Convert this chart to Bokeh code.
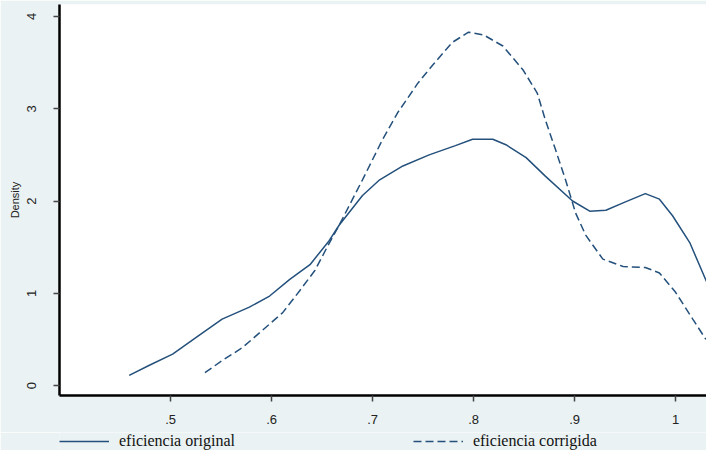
from bokeh.plotting import figure
from bokeh.models import Legend, LegendItem, FixedTicker, Range1d
from bokeh.layouts import column
from bokeh.embed import file_html
from bokeh.resources import INLINE

# Kernel density: eficiencia original (solid)
orig_x = [0.459, 0.479, 0.502, 0.525, 0.551, 0.578, 0.598, 0.618, 0.638, 0.657, 0.667,
          0.690, 0.707, 0.730, 0.756, 0.782, 0.799, 0.819, 0.832, 0.852, 0.871, 0.898,
          0.915, 0.931, 0.948, 0.970, 0.984, 0.997, 1.014, 1.034]
orig_y = [0.11, 0.22, 0.34, 0.52, 0.72, 0.85, 0.97, 1.15, 1.31, 1.57, 1.74,
          2.06, 2.23, 2.38, 2.50, 2.60, 2.67, 2.67, 2.61, 2.47, 2.27, 2.00,
          1.89, 1.90, 1.98, 2.08, 2.02, 1.84, 1.55, 1.04]

# Kernel density: eficiencia corrigida (dashed)
corr_x = [0.534, 0.551, 0.571, 0.591, 0.611, 0.628, 0.643, 0.655, 0.667, 0.690, 0.710,
          0.725, 0.745, 0.760, 0.779, 0.795, 0.810, 0.829, 0.849, 0.863, 0.871, 0.881,
          0.891, 0.901, 0.911, 0.928, 0.948, 0.970, 0.984, 1.000, 1.017, 1.030]
corr_y = [0.14, 0.27, 0.41, 0.60, 0.79, 1.03, 1.25, 1.50, 1.74, 2.23, 2.67,
          2.96, 3.28, 3.48, 3.72, 3.83, 3.80, 3.68, 3.42, 3.17, 2.88, 2.56,
          2.23, 1.87, 1.63, 1.37, 1.29, 1.28, 1.22, 1.01, 0.72, 0.50]

x_ticks = [0.5, 0.6, 0.7, 0.8, 0.9, 1.0]
x_tick_labels = [".5", ".6", ".7", ".8", ".9", "1"]
y_ticks = [0, 1, 2, 3, 4]
y_tick_labels = ["0", "1", "2", "3", "4"]
series_names = ["eficiencia original", "eficiencia corrigida"]

LINE = "#24507c"
BG = "#eaf2f3"

p = figure(width=706, height=432, output_backend="svg", toolbar_location=None,
           x_range=Range1d(0.39, 1.0306), y_range=Range1d(-0.108, 4.13),
           min_border_left=59, min_border_right=0, min_border_top=4,
           min_border_bottom=37)
p.border_fill_color = BG
p.background_fill_color = "white"
p.outline_line_color = None
p.xgrid.grid_line_color = None
p.ygrid.grid_line_color = None

p.line(orig_x, orig_y, line_color=LINE, line_width=1.5)
p.line(corr_x, corr_y, line_color=LINE, line_width=1.5, line_dash="8 4")

# axes
for ax in (p.xaxis[0], p.yaxis[0]):
    ax.axis_line_color = "black"
    ax.axis_line_width = 2.5
    ax.major_tick_line_color = "#444444"
    ax.major_tick_line_width = 1.5
    ax.major_tick_out = 6
    ax.major_tick_in = 0
    ax.minor_tick_line_color = None
    ax.major_label_text_font = "Liberation Sans"
    ax.major_label_text_font_size = "13px"
    ax.major_label_text_color = "#222222"

p.xaxis.ticker = FixedTicker(ticks=x_ticks)
p.xaxis.major_label_overrides = {t: l for t, l in zip(x_ticks, x_tick_labels)}
p.xaxis.major_label_standoff = 13

p.yaxis.ticker = FixedTicker(ticks=y_ticks)
p.yaxis.major_label_overrides = {t: l for t, l in zip(y_ticks, y_tick_labels)}
p.yaxis.major_label_orientation = "vertical"
p.yaxis.major_label_standoff = 17
p.yaxis.axis_label = "Density"
p.yaxis.axis_label_text_font = "Liberation Sans"
p.yaxis.axis_label_text_font_size = "11px"
p.yaxis.axis_label_text_font_style = "normal"
p.yaxis.axis_label_text_color = "#222222"
p.yaxis.axis_label_standoff = 4

# legend strip below the plot (its lines lie outside the visible range)
lg = figure(width=706, height=18, output_backend="svg", toolbar_location=None,
            x_range=Range1d(0, 1), y_range=Range1d(100, 101),
            x_axis_location=None, y_axis_location=None,
            min_border_left=0, min_border_right=0, min_border_top=0,
            min_border_bottom=0)
lg.border_fill_color = BG
lg.background_fill_color = BG
lg.outline_line_color = None
lg.xgrid.grid_line_color = None
lg.ygrid.grid_line_color = None
l1 = lg.line(orig_x, orig_y, line_color=LINE, line_width=1.5)
l2 = lg.line(corr_x, corr_y, line_color=LINE, line_width=1.5, line_dash="8 4")

legend = Legend(items=[LegendItem(label=series_names[0], renderers=[l1]),
                       LegendItem(label=series_names[1], renderers=[l2])],
                orientation="horizontal", location=(0, 0),
                glyph_width=50, glyph_height=14, label_standoff=10,
                label_height=16, spacing=178, padding=0, margin=0,
                label_text_font="Liberation Serif", label_text_font_size="16px",
                label_text_color="#111111",
                background_fill_alpha=0, border_line_color=None)
lg.add_layout(legend)

layout = column(p, lg, spacing=0)
open("out.html", "w").write(file_html(layout, INLINE))
